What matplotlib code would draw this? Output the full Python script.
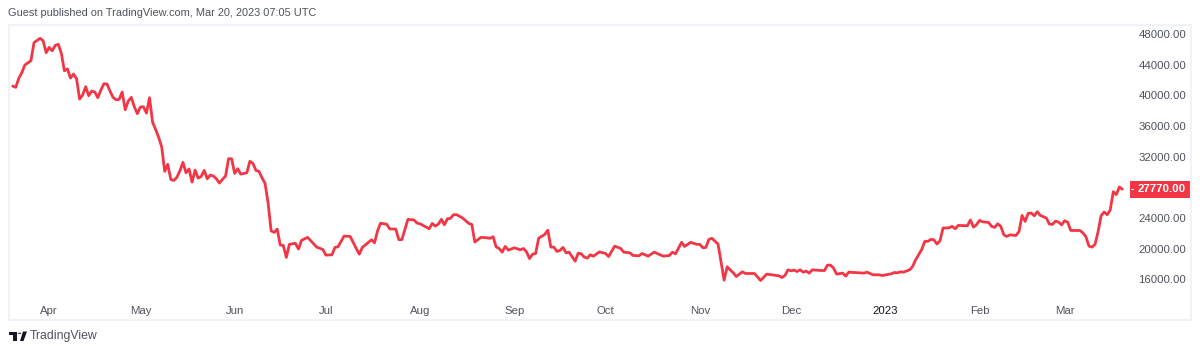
import numpy as np
import matplotlib
matplotlib.use("Agg")
import matplotlib.pyplot as plt
import matplotlib.dates as mdates
from matplotlib.patches import Rectangle, Polygon, Circle

plt.rcParams['font.family'] = ['Liberation Sans', 'DejaVu Sans']

start_date = np.datetime64('2022-03-20')

# Days since start_date
day_offset = [
    0, 1, 2, 3, 4, 6, 7, 9, 10, 11, 12, 13, 14, 15, 16, 17, 18, 19, 20, 21, 22, 23, 24, 25, 26, 27, 28, 29,
    30, 31, 32, 33, 34, 35, 36, 37, 38, 39, 40, 41, 42, 43, 44, 45, 46, 47, 48, 49, 50, 51, 52, 53, 54, 55,
    56, 57, 58, 59, 60, 61, 62, 63, 64, 65, 66, 67, 68, 69, 70, 71, 72, 73, 74, 75, 77, 78, 79, 80, 81, 82,
    83, 84, 85, 86, 87, 88, 89, 90, 91, 93, 94, 95, 97, 100, 102, 103, 105, 106, 107, 109, 111, 113, 114,
    115, 118, 119, 120, 121, 123, 124, 126, 127, 128, 130, 132, 133, 134, 137, 138, 139, 140, 141, 142,
    143, 144, 145, 146, 148, 150, 151, 152, 154, 156, 157, 158, 159, 160, 161, 162, 163, 165, 167, 168,
    169, 170, 171, 172, 173, 175, 176, 177, 178, 179, 180, 181, 182, 183, 185, 186, 187, 188, 189, 190,
    191, 193, 195, 196, 198, 200, 201, 203, 204, 206, 207, 209, 211, 214, 216, 217, 218, 220, 221, 223,
    225, 226, 227, 228, 229, 230, 232, 234, 235, 237, 238, 240, 241, 244, 246, 248, 252, 253, 254, 255,
    256, 257, 258, 259, 260, 261, 262, 263, 266, 267, 268, 269, 270, 271, 273, 274, 275, 280, 281, 283,
    285, 286, 289, 290, 291, 292, 293, 295, 296, 297, 299, 300, 301, 302, 303, 304, 305, 306, 308, 309,
    310, 311, 314, 315, 316, 317, 318, 319, 321, 322, 323, 324, 325, 326, 327, 328, 330, 331, 332, 333,
    334, 335, 336, 337, 338, 340, 341, 342, 343, 344, 345, 346, 347, 348, 350, 351, 352, 353, 354, 355,
    356, 357, 358, 359, 360, 361, 362, 363, 364, 365,
]

close = [
    41220, 41050, 42220, 42960, 43960, 44520, 46870, 47440, 47130, 45560, 46260, 45820, 46520, 46650,
    45480, 43220, 43440, 42260, 42780, 42170, 39520, 40040, 41130, 39960, 40570, 40440, 39700, 40700,
    41520, 41480, 40570, 39740, 39430, 39480, 40440, 38130, 39260, 39740, 38520, 37610, 38480, 38520,
    37700, 39700, 36520, 35570, 34530, 33300, 30100, 31010, 29050, 28920, 29310, 30180, 31270, 29910,
    30400, 28700, 30260, 29220, 29440, 30220, 29130, 29610, 29480, 29130, 28570, 29050, 29480, 31740,
    31740, 29830, 30440, 29740, 29910, 31400, 31140, 30220, 30100, 29260, 28530, 26000, 22330, 22140,
    22570, 20490, 20450, 18880, 20580, 20710, 19970, 21100, 21490, 20220, 19920, 19180, 19220, 20180,
    20260, 21660, 21610, 20040, 19300, 20180, 21170, 20780, 22330, 23340, 23210, 22600, 22560, 21200,
    21200, 23840, 23750, 23350, 23260, 22610, 23310, 22960, 23220, 23840, 23130, 23920, 23970, 24450,
    24450, 24010, 23310, 23180, 20880, 21490, 21440, 21360, 21570, 20260, 20040, 19560, 20310, 19830,
    20130, 19870, 20040, 19600, 18730, 19300, 19390, 21390, 21870, 22430, 20220, 20220, 19660, 19790,
    20180, 19480, 19560, 18390, 19430, 19350, 18920, 18790, 19220, 19040, 19600, 19390, 19000, 20350,
    20040, 19560, 19480, 19130, 19090, 19390, 19040, 19560, 19040, 19130, 19560, 19350, 20840, 20310,
    20840, 20580, 20580, 20130, 20180, 21230, 21360, 20620, 15910, 17650, 16870, 16390, 17000, 16780,
    16780, 15870, 16700, 16480, 16260, 16520, 17260, 17130, 17220, 17040, 17260, 16960, 17090, 16830,
    17260, 17170, 17170, 17870, 17870, 17480, 16700, 16830, 16440, 16960, 16830, 16960, 16610, 16610,
    16520, 16740, 16910, 16870, 17000, 16960, 17260, 17700, 18570, 19920, 20970, 20970, 21230, 21180,
    20620, 21050, 22700, 22740, 22920, 22610, 23050, 23000, 23750, 22830, 23130, 23700, 23520, 23430,
    22920, 22790, 23260, 22920, 21820, 21610, 21820, 21740, 22260, 24350, 23570, 24620, 24660, 24310,
    24830, 24350, 24010, 23220, 23180, 23610, 23480, 23130, 23660, 23480, 22390, 22390, 22390, 22090,
    21570, 20350, 20220, 20580, 22220, 24310, 24790, 24450, 25060, 27450, 27060, 28060, 27770,
]

month_dates = ['2022-04-01', '2022-05-01', '2022-06-01', '2022-07-01', '2022-08-01', '2022-09-01',
               '2022-10-01', '2022-11-01', '2022-12-01', '2023-01-01', '2023-02-01', '2023-03-01']
month_labels = ['Apr', 'May', 'Jun', 'Jul', 'Aug', 'Sep', 'Oct', 'Nov', 'Dec', '2023', 'Feb', 'Mar']
price_ticks = [16000, 20000, 24000, 28000, 32000, 36000, 40000, 44000, 48000]
last_price = 27770

W, H = 1200, 352
RED = '#f23645'
GREY = '#50535e'
BORDER = '#f0f3fa'


def fx(px):
    return px / W


def fy(py):
    return 1 - py / H


def draw_logo(fig):
    """TradingView mark, pixel coordinates."""
    black = '#131722'
    tf = fig.transFigure
    fig.add_artist(Rectangle((fx(9), fy(335)), 8 / W, 3.5 / H, color=black, lw=0, transform=tf))
    fig.add_artist(Rectangle((fx(13), fy(341)), 4 / W, 7 / H, color=black, lw=0, transform=tf))
    pts = [(fx(20), fy(341)), (fx(23), fy(331.5)), (fx(27), fy(331.5)), (fx(23.5), fy(341))]
    fig.add_artist(Polygon(pts, closed=True, color=black, lw=0, transform=tf))
    fig.add_artist(Circle((fx(19.5), fy(333.3)), 1.8 / W, color=black, lw=0, transform=tf))


def main():
    fig = plt.figure(figsize=(W / 100, H / 100), dpi=100, facecolor='white')

    # Outer frame round the chart and price scale
    fig.add_artist(Rectangle((fx(9), fy(320)), 1182 / W, 295 / H, fill=False, edgecolor=BORDER, lw=1.5,
                             transform=fig.transFigure))

    ax = fig.add_axes([fx(10), fy(300), 1120 / W, 275 / H])
    ax.patch.set_visible(False)
    dates = start_date + np.array(day_offset).astype('timedelta64[D]')
    ax.plot(dates, close, color=RED, lw=2.0, solid_joinstyle='round', solid_capstyle='round')

    ax.set_xlim(mdates.date2num(start_date) - 0.89, mdates.date2num(start_date) + 367.5)
    ax.set_ylim(13327, 49174)
    for s in ax.spines.values():
        s.set_visible(False)

    ax.set_xticks(np.array(month_dates, dtype='datetime64[D]'))
    ax.set_xticklabels(month_labels, fontsize=8.2, color=GREY)
    ax.get_xticklabels()[9].set_color('#131722')
    ax.tick_params(axis='x', length=0, pad=4)

    ax.yaxis.tick_right()
    ax.set_yticks(price_ticks)
    ax.set_yticklabels(['%.2f' % p if p != 28000 else '' for p in price_ticks], fontsize=8.2, color=GREY)
    ax.tick_params(axis='y', length=0, pad=6)

    # Last price tag
    fig.add_artist(Rectangle((fx(1130), fy(198)), 60.5 / W, 17.5 / H, color=RED, lw=0, zorder=-1,
                             transform=fig.transFigure))
    fig.add_artist(Rectangle((fx(1131), fy(189.6)), 3 / W, 1 / H, color='white', lw=0, transform=fig.transFigure))
    ax.text(1128 / 1120, last_price, '%.2f' % last_price, color='white', fontsize=8.2, fontweight='bold',
            va='center', ha='left', transform=ax.get_yaxis_transform(), clip_on=False, zorder=5)

    fig.text(fx(8), fy(13), 'Guest published on TradingView.com, Mar 20, 2023 07:05 UTC', fontsize=7.9,
             color=GREY, va='center', ha='left')
    fig.text(fx(30), fy(336), 'TradingView', fontsize=8.8, color=GREY, va='center', ha='left')
    draw_logo(fig)

    fig.savefig('out.png', dpi=100)


if __name__ == '__main__':
    main()
